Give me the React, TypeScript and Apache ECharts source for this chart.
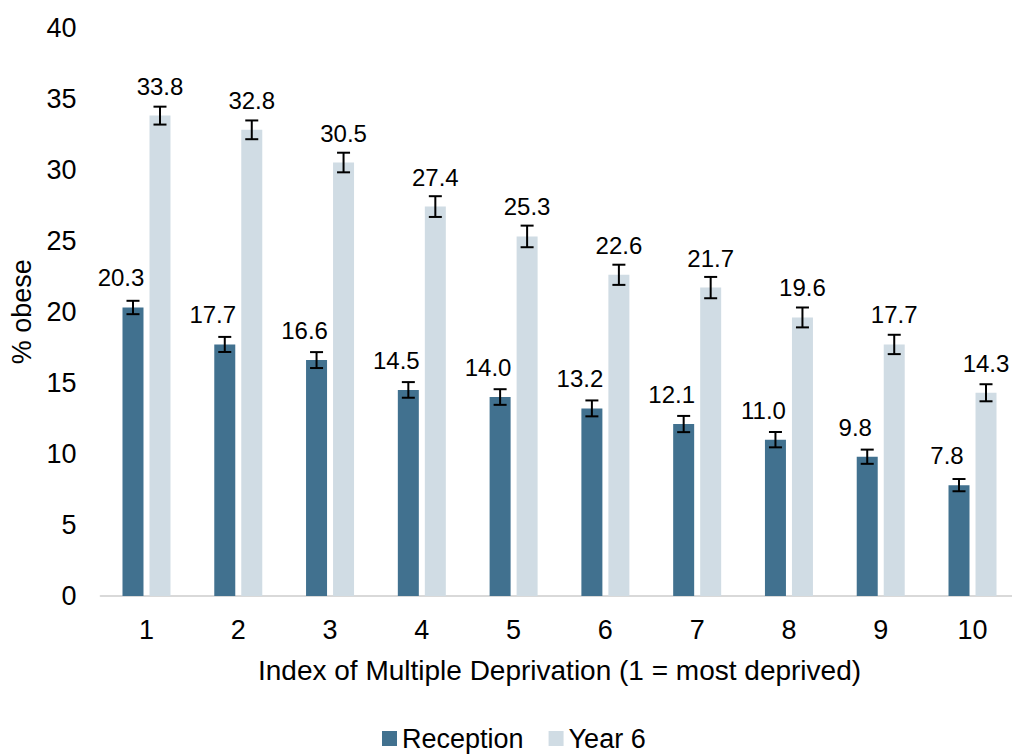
import React, { useEffect, useRef } from "react";
import * as echarts from "echarts";

const categories = ["1", "2", "3", "4", "5", "6", "7", "8", "9", "10"];
const receptionValues = [20.3, 17.7, 16.6, 14.5, 14.0, 13.2, 12.1, 11.0, 9.8, 7.8];
const year6Values = [33.8, 32.8, 30.5, 27.4, 25.3, 22.6, 21.7, 19.6, 17.7, 14.3];
const receptionErrors = [0.47, 0.53, 0.56, 0.55, 0.55, 0.56, 0.57, 0.54, 0.5, 0.43];
const year6Errors = [0.63, 0.66, 0.69, 0.73, 0.76, 0.71, 0.75, 0.7, 0.68, 0.6];
const yTicks = { min: 0, max: 40, interval: 5 };

const FONT = "'Liberation Sans', Arial, sans-serif";
const REC_COLOR = "#41718F";
const Y6_COLOR = "#D0DCE4";
const BAR_W = 21;
const BAR_GAP = 6;

function errorSeries(name: string, values: number[], errs: number[], dx: number) {
  return {
    type: "custom",
    name: name + " CI",
    silent: true,
    z: 5,
    data: values.map((v, i) => [i, v, errs[i]]),
    encode: { x: 0, y: 1 },
    renderItem: (params: any, api: any) => {
      const idx = api.value(0);
      const v = api.value(1);
      const e = api.value(2);
      const top = api.coord([idx, v + e]);
      const bot = api.coord([idx, v - e]);
      const x = top[0] + dx;
      const cap = 6.5;
      const style = { stroke: "#000", lineWidth: 2 };
      return {
        type: "group",
        children: [
          { type: "line", shape: { x1: x, y1: top[1], x2: x, y2: bot[1] }, style },
          { type: "line", shape: { x1: x - cap, y1: top[1], x2: x + cap, y2: top[1] }, style },
          { type: "line", shape: { x1: x - cap, y1: bot[1], x2: x + cap, y2: bot[1] }, style },
        ],
      };
    },
  };
}

export default function App() {
  const ref = useRef<HTMLDivElement>(null);
  useEffect(() => {
    if (!ref.current) return;
    const chart = echarts.init(ref.current, undefined, { renderer: "svg" });
    const half = (BAR_W + BAR_GAP) / 2;
    chart.setOption({
      animation: false,
      backgroundColor: "#fff",
      textStyle: { fontFamily: FONT, color: "#000" },
      grid: { left: 100.6, right: 0.6, top: 27.5, bottom: 158 },
      legend: {
        data: ["Reception", "Year 6"],
        left: 377,
        top: 720,
        icon: "rect",
        itemWidth: 15,
        itemHeight: 15,
        itemGap: 25,
        textStyle: { fontFamily: FONT, fontSize: 27, color: "#000", lineHeight: 27 },
      },
      xAxis: {
        type: "category",
        data: categories,
        axisLine: { lineStyle: { color: "#D9D9D9", width: 2 } },
        axisTick: { show: false },
        axisLabel: { fontFamily: FONT, fontSize: 27, color: "#000", margin: 20 },
        name: "Index of Multiple Deprivation (1 = most deprived)",
        nameLocation: "middle",
        nameGap: 60,
        nameTextStyle: { fontFamily: FONT, fontSize: 28, color: "#000" },
      },
      yAxis: {
        type: "value",
        min: yTicks.min,
        max: yTicks.max,
        interval: yTicks.interval,
        splitLine: { show: false },
        axisLine: { show: false },
        axisTick: { show: false },
        axisLabel: { fontFamily: FONT, fontSize: 27, color: "#000", margin: 24 },
        name: "% obese",
        nameLocation: "middle",
        nameGap: 63,
        nameTextStyle: { fontFamily: FONT, fontSize: 27, color: "#000" },
      },
      series: [
        {
          type: "bar",
          name: "Reception",
          data: receptionValues,
          barWidth: BAR_W,
          barGap: (BAR_GAP / BAR_W) * 100 + "%",
          itemStyle: { color: REC_COLOR },
          label: {
            show: true,
            position: "top",
            distance: 17.5,
            offset: [-12, 0],
            formatter: (p: any) => p.value.toFixed(1),
            fontFamily: FONT,
            fontSize: 24,
            color: "#000",
          },
        },
        {
          type: "bar",
          name: "Year 6",
          data: year6Values,
          barWidth: BAR_W,
          itemStyle: { color: Y6_COLOR },
          label: {
            show: true,
            position: "top",
            distance: 17.5,
            formatter: (p: any) => p.value.toFixed(1),
            fontFamily: FONT,
            fontSize: 24,
            color: "#000",
          },
        },
        errorSeries("Reception", receptionValues, receptionErrors, -half),
        errorSeries("Year 6", year6Values, year6Errors, half),
      ],
    });
    return () => chart.dispose();
  }, []);
  return (
    <div
      style={{ position: "absolute", left: 0, top: 0, width: 1012, height: 754, overflow: "hidden" }}
    >
      <div ref={ref} style={{ width: 1019, height: 754 }} />
    </div>
  );
}
